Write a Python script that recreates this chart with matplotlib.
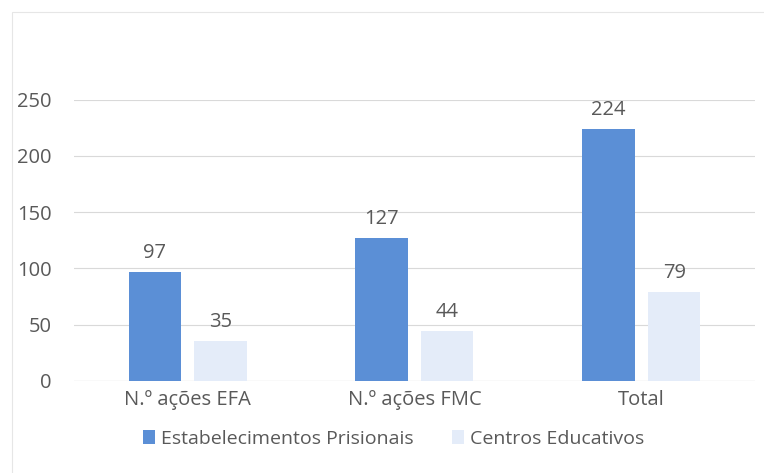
import numpy as np
import matplotlib.pyplot as plt
from matplotlib.patches import Rectangle

categories = ['N.º ações EFA', 'N.º ações FMC', 'Total']
series_names = ['Estabelecimentos Prisionais', 'Centros Educativos']
prisionais = [97, 127, 224]
educativos = [35, 44, 79]
yticks = [0, 50, 100, 150, 200, 250]

plt.rcParams['font.family'] = ['Open Sans', 'DejaVu Sans']
grey = '#595959'
c_blue = '#5b8fd6'
c_light = '#e4ecf9'

fig = plt.figure(figsize=(7.64, 4.73), dpi=100)
ax = fig.add_axes([0.097, 0.195, 0.891, 0.594])

x = np.arange(len(categories))
w = 0.23
off = 0.145
b1 = ax.bar(x - off, prisionais, w, color=c_blue, label=series_names[0], zorder=3)
b2 = ax.bar(x + off, educativos, w, color=c_light, label=series_names[1], zorder=3)

for bars in (b1, b2):
    for r in bars:
        ax.text(r.get_x() + r.get_width() / 2, r.get_height() + 8, str(int(r.get_height())),
                ha='center', va='bottom', fontsize=14.5, color=grey, clip_on=False)

ax.set_xlim(-0.5, 2.5)
ax.set_ylim(0, 250)
ax.set_yticks(yticks)
ax.set_xticks(x)
ax.set_xticklabels(categories)
ax.tick_params(axis='both', length=0, labelsize=14.5, labelcolor=grey)
ax.tick_params(axis='y', pad=16)
ax.tick_params(axis='x', pad=7)
ax.grid(axis='y', color='#d9d9d9', linewidth=0.8, zorder=0)
for s in ax.spines.values():
    s.set_visible(False)
ax.axhline(0, color='#d0d0d0', linewidth=0.8, zorder=2)

fig.legend(handles=[b1, b2], loc='center', bbox_to_anchor=(0.515, 0.072), ncol=2,
           frameon=False, fontsize=14, labelcolor=grey, handlelength=0.6, handleheight=0.7,
           handletextpad=0.3, columnspacing=2.0)

fig.patches.append(Rectangle((0.016, -0.1), 1.2, 1.075, transform=fig.transFigure,
                             fill=False, edgecolor='#e6e6e6', linewidth=0.8))

fig.savefig('out.png', dpi=100)
